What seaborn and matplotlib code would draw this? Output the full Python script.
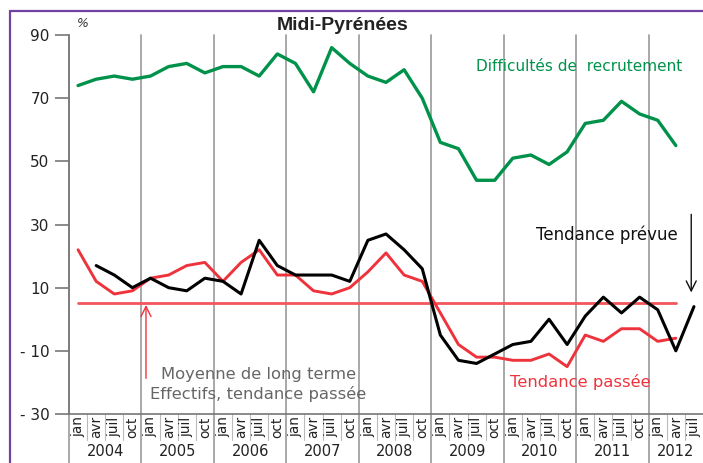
import numpy as np
import pandas as pd
import matplotlib
matplotlib.use("Agg")
import matplotlib.pyplot as plt
import matplotlib.transforms as mtransforms
from matplotlib.lines import Line2D
import seaborn as sns

# --- data (quarterly, jan 2004 -> juil 2012) ---
years = ["2004", "2005", "2006", "2007", "2008", "2009", "2010", "2011", "2012"]
months = ["jan", "avr", "juil", "oct"]
n_quarters = 35

difficultes = [74, 76, 77, 76, 77, 80, 81, 78, 80, 80, 77, 84, 81, 72, 86, 81,
               77, 75, 79, 70, 56, 54, 44, 44, 51, 52, 49, 53, 62, 63, 69, 65,
               63, 55]
tendance_prevue = [17, 14, 10, 13, 10, 9, 13, 12, 8, 25, 17, 14, 14, 14, 12,
                   25, 27, 22, 16, -5, -13, -14, -11, -8, -7, 0, -8, 1, 7, 2, 7,
                   3, -10, 4]
tendance_passee = [22, 12, 8, 9, 13, 14, 17, 18, 12, 18, 22, 14, 14, 9, 8, 10,
                   15, 21, 14, 12, 2, -8, -12, -12, -13, -13, -11, -15, -5, -7,
                   -3, -3, -7, -6]
moyenne_long_terme = [5] * 34

quarter_labels = [m for y in years for m in months][:n_quarters]
x_all = np.arange(n_quarters)

# --- style ---
sns.set_style("white")
plt.rcParams['font.family'] = ['DejaVu Sans']

fig = plt.figure(figsize=(7.03, 4.63), dpi=100)
ax = fig.add_axes([69 / 703, 1 - 414 / 463, 634 / 703, 379 / 463])

green = "#00924a"
red = "#ee333d"

sns.lineplot(x=x_all[:34], y=moyenne_long_terme, ax=ax, color="#f2555c", linewidth=2.0)
sns.lineplot(x=x_all[:34], y=difficultes, ax=ax, color=green, linewidth=2.4)
sns.lineplot(x=x_all[:34], y=tendance_passee, ax=ax, color=red, linewidth=2.1)
sns.lineplot(x=x_all[1:35], y=tendance_prevue, ax=ax, color="black", linewidth=2.2)

ax.set_xlim(-0.5, n_quarters - 0.5)
ax.set_ylim(-30, 90)
ax.set_xlabel("")
ax.set_ylabel("")

for s in ["top", "right"]:
    ax.spines[s].set_visible(False)
ax.spines["left"].set_color("#777777")
ax.spines["bottom"].set_color("#777777")
ax.spines["left"].set_linewidth(1.2)
ax.spines["bottom"].set_linewidth(1.2)

ax.set_xticks([])
ax.set_yticks([90, 70, 50, 30, 10, -10, -30])
ax.set_yticklabels(["90", "70", "50", "30", "10", "- 10", "- 30"])
ax.tick_params(axis="y", length=10, width=1.2, color="#777777", pad=4,
               labelsize=11, labelcolor="#222222", left=True)

# year separators (extend down through the label band)
bottom_frac = -(463 - 414) / 379
for k in range(0, 9):
    ax.axvline(4 * k - 0.5, ymin=bottom_frac, ymax=1, color="#999999",
               linewidth=1.2, clip_on=False, zorder=0)

# quarter separators in the label band
for i in range(1, n_quarters):
    if i % 4 != 0:
        ax.axvline(i - 0.5, ymin=-(440 - 414) / 379, ymax=0, color="#bbbbbb",
                   linewidth=0.8, clip_on=False)

trans = mtransforms.blended_transform_factory(ax.transData, ax.transAxes)
for i, lab in enumerate(quarter_labels):
    ax.text(i, -0.006, lab, transform=trans, rotation=90, ha="center", va="top",
            fontsize=9.8, color="#222222")
for k, yr in enumerate(years):
    start = 4 * k - 0.5
    end = min(4 * k + 3.5, n_quarters - 0.5)
    ax.text((start + end) / 2, -(452 - 414) / 379, yr, transform=trans,
            ha="center", va="center", fontsize=10.5, color="#222222")

# annotations
ax.text(21.97, 79.9, "Difficultés de  recrutement", color=green, fontsize=11,
        ha="left", va="center")
ax.text(33.1, 26.9, "Tendance prévue", color="#111111", fontsize=12,
        ha="right", va="center")
ax.text(27.7, -19.9, "Tendance passée", color=red, fontsize=11.8,
        ha="center", va="center")
ax.text(9.95, -20.8, "Moyenne de long terme\nEffectifs, tendance passée",
        color="#666666", fontsize=11.8, ha="center", va="center", linespacing=1.3)
ax.annotate("", xy=(3.75, 5.4), xytext=(3.75, -19.6),
            arrowprops=dict(arrowstyle="->", color=red, linewidth=1.0,
                            mutation_scale=18))
ax.annotate("", xy=(33.85, 7.6), xytext=(33.85, 34.1),
            arrowprops=dict(arrowstyle="->", color="#111111", linewidth=1.0,
                            mutation_scale=18), annotation_clip=False)

ax.text(0.25, 93.5, "%", fontsize=9, style="italic", color="#333333",
        ha="center", va="center")
fig.text(342.5 / 703, 1 - 25 / 463, "Midi-Pyrénées", fontsize=14,
         fontweight="bold", family=["Liberation Sans", "DejaVu Sans"],
         color="#222222", ha="center", va="center")

# purple frame (top and left edges)
purple = "#7144a4"
fig.add_artist(Line2D([10 / 703, 1], [1 - 10.7 / 463] * 2, color=purple,
                      linewidth=1.6, transform=fig.transFigure))
fig.add_artist(Line2D([10 / 703] * 2, [0, 1 - 10.7 / 463], color=purple,
                      linewidth=1.6, transform=fig.transFigure))

fig.savefig("out.png", dpi=100)
plt.close(fig)
